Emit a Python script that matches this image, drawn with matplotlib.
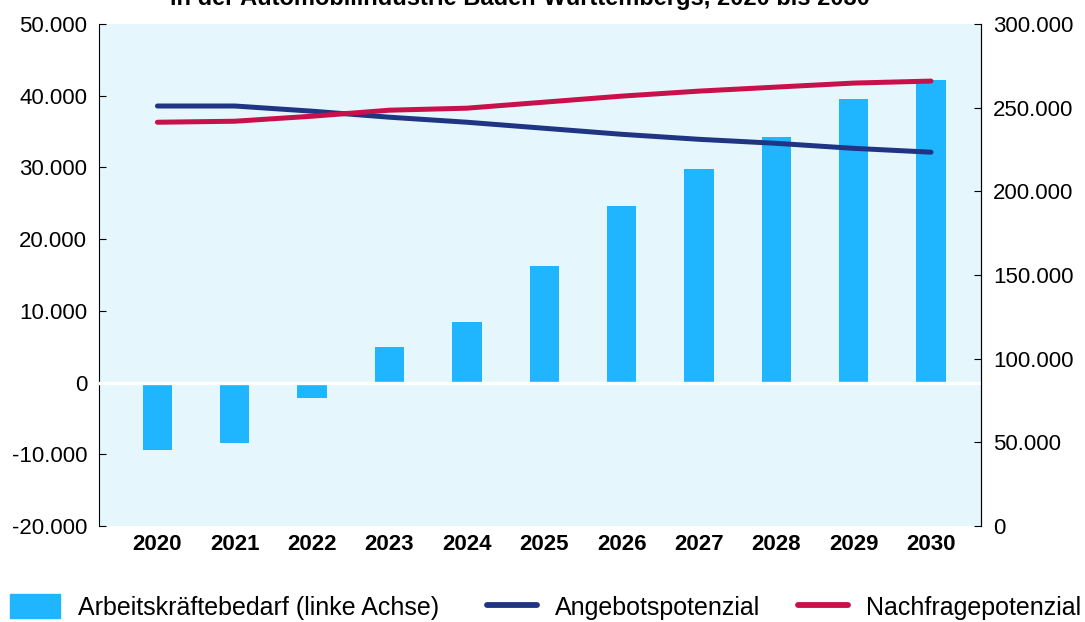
import matplotlib.pyplot as plt
from matplotlib.lines import Line2D
from matplotlib.patches import Patch
from matplotlib.ticker import FuncFormatter

plt.rcParams['font.family'] = ['Liberation Sans', 'DejaVu Sans']

# Daten
jahre = ['2020', '2021', '2022', '2023', '2024', '2025', '2026', '2027', '2028', '2029', '2030']
bedarf = [-9400, -8400, -2200, 5000, 8500, 16300, 24600, 29800, 34200, 39500, 42200]
angebot = [251000, 251000, 247900, 244300, 241300, 237700, 234100, 231100, 228700, 225700, 223400]
nachfrage = [241300, 241900, 244900, 248500, 249700, 253300, 256900, 259900, 262300, 264700, 265900]

c_bar = '#1FB6FF'
c_blau = '#1F3584'
c_rot = '#C8104A'


def tausender(v, pos):
    return f'{int(v):,}'.replace(',', '.')


fig = plt.figure(figsize=(10.85, 6.22), dpi=100)
ax = fig.add_axes([0.0912, 0.1543, 0.8129, 0.8071])
ax.set_facecolor('#E6F6FD')
x = list(range(len(jahre)))

ax.bar(x, bedarf, width=0.38, color=c_bar, zorder=2)
ax.axhline(0, color='white', lw=2.4, zorder=3)
ax.set_ylim(-20000, 50000)
ax.set_yticks(range(-20000, 50001, 10000))
ax.yaxis.set_major_formatter(FuncFormatter(tausender))
ax.set_xlim(-0.756, 10.646)
ax.set_xticks(x)
ax.set_xticklabels(jahre, fontweight='bold')
ax.tick_params(axis='x', length=0, pad=6, labelsize=16)
ax.tick_params(axis='y', direction='in', length=5, pad=8.5, labelsize=16)
for s in ['top', 'bottom']:
    ax.spines[s].set_visible(False)

ax2 = ax.twinx()
ax2.plot(x, angebot, color=c_blau, lw=3.6, solid_capstyle='round', zorder=4)
ax2.plot(x, nachfrage, color=c_rot, lw=3.6, solid_capstyle='round', zorder=4)
ax2.set_ylim(0, 300000)
ax2.set_yticks(range(0, 300001, 50000))
ax2.yaxis.set_major_formatter(FuncFormatter(tausender))
ax2.tick_params(axis='y', direction='in', length=5, pad=8.5, labelsize=16)
for s in ['top', 'bottom', 'left']:
    ax2.spines[s].set_visible(False)

fig.text(0.479, 1 - 5 / 622, 'in der Automobilindustrie Baden-Württembergs, 2020 bis 2030',
         ha='center', va='baseline', fontsize=17, fontweight='bold')

# Legende: drei Einträge, einzeln platziert
eintraege = [
    (Patch(color=c_bar), 'Arbeitskräftebedarf (linke Achse)', 10),
    (Line2D([], [], color=c_blau, lw=4.2, solid_capstyle='round'), 'Angebotspotenzial', 487),
    (Line2D([], [], color=c_rot, lw=4.2, solid_capstyle='round'), 'Nachfragepotenzial', 798),
]
for h, txt, px in eintraege:
    fig.legend([h], [txt], loc='center left', bbox_to_anchor=(px / 1085, 15 / 622),
               frameon=False, fontsize=18, handlelength=2.0, handleheight=1.1,
               handletextpad=0.7, borderpad=0, borderaxespad=0)

fig.savefig('out.png', dpi=100)
